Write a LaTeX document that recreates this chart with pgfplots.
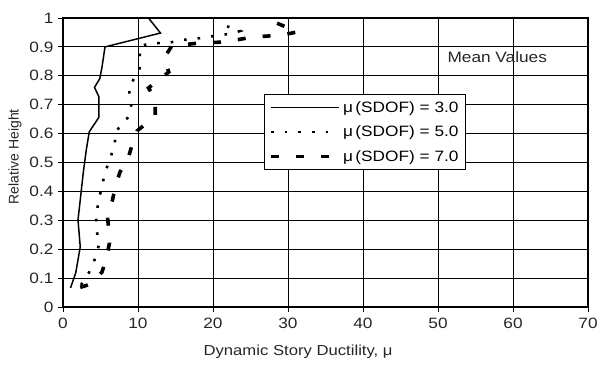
\documentclass[border=0pt]{standalone}
\usepackage{fontspec}
\setmainfont{Liberation Sans}[FakeStretch=1.15]
\newfontfamily\plainsans{Liberation Sans}
\usepackage{pgfplots}
\pgfplotsset{compat=1.18}
\begin{document}
\begin{tikzpicture}
\begin{axis}[
  scale only axis, width=525pt, height=289pt,
  xmin=0, xmax=70, ymin=0, ymax=1,
  xtick={0,10,...,70}, ytick={0,0.1,...,1},
  grid=major, major grid style={black, line width=0.9pt},
  axis line style={black, line width=1.5pt},
  tick align=outside, tick pos=left, major tick length=5pt,
  tick style={black, line width=0.9pt},
  /pgf/number format/assume math mode=true,
  ticklabel style={font=\fontsize{15}{15}\selectfont, text=black!85},
  yticklabel style={xshift=-1pt},
  xticklabel style={yshift=-2pt},
  xlabel={Dynamic Story Ductility, μ},
  ylabel={Relative Height},
  xlabel style={font=\fontsize{14.5}{15}\selectfont, text=black!85,
    at={(axis description cs:0.261,0)}, anchor=west, yshift=-45pt},
  ylabel style={font=\plainsans\fontsize{14}{15}\selectfont, text=black!85,
    at={(axis description cs:-0.0914,0.52)}, anchor=center},
  legend style={at={(axis description cs:0.383,0.474)}, anchor=south west,
    draw=black, line width=0.8pt, fill=white,
    font=\fontsize{15}{16}\selectfont, inner xsep=5pt, inner ysep=5pt,
    row sep=8pt},
  legend cell align=left,
  legend image code/.code={\draw[#1] (0pt,0pt) -- (61pt,0pt); \path (0pt,0pt) -- (68pt,0pt);},
]
\addplot[black, line width=1.5pt] coordinates {
(1.0,0.066) (1.7,0.118) (2.3,0.208) (2.0,0.301) (2.4,0.394) (2.7,0.464)
(3.1,0.543) (3.5,0.606) (4.8,0.657) (4.8,0.727) (4.2,0.76) (4.9,0.79)
(5.2,0.83) (5.6,0.90) (13.0,0.948) (11.4,1.0)
};
\addlegendentry{μ\,(SDOF) = 3.0}
\addplot[black, line width=2.6pt, dash pattern=on 2.6pt off 11pt] coordinates {
(2.4,0.076) (3.5,0.121) (4.2,0.163) (4.8,0.215) (4.5,0.266) (4.4,0.318)
(4.8,0.37) (5.1,0.41) (5.6,0.464) (6.3,0.516) (6.9,0.56) (7.0,0.606)
(8.7,0.657) (9.2,0.709) (8.7,0.758) (10.2,0.82) (10.2,0.862) (10.4,0.905)
(12.3,0.913) (13.9,0.913) (15.8,0.924) (17.4,0.927) (19.1,0.934) (21.1,0.941)
(22.8,0.948) (23.6,0.955) (21.8,0.972)
};
\addlegendentry{μ\,(SDOF) = 5.0}
\addplot[black, line width=3.6pt, dash pattern=on 8pt off 17pt] coordinates {
(2.3,0.068) (3.8,0.08) (5.2,0.121) (5.8,0.170) (6.2,0.222) (6.1,0.27)
(5.9,0.318) (6.6,0.37) (7.0,0.42) (7.6,0.467) (8.7,0.516) (9.2,0.56)
(9.9,0.61) (12.3,0.66) (12.3,0.72) (11.4,0.758) (14.1,0.813) (13.5,0.862)
(14.5,0.903) (18.0,0.913) (21.5,0.917) (25.3,0.934) (29.2,0.941)
(31.3,0.952) (27.8,0.99)
};
\addlegendentry{μ\,(SDOF) = 7.0}
\node[font=\fontsize{15}{15}\selectfont, text=black!85] at (axis cs:57.9,0.865) {Mean Values};
\end{axis}
\pgfresetboundingbox
\path[use as bounding box] (-63pt,-58pt) rectangle (534pt,307pt);
\end{tikzpicture}
\end{document}
